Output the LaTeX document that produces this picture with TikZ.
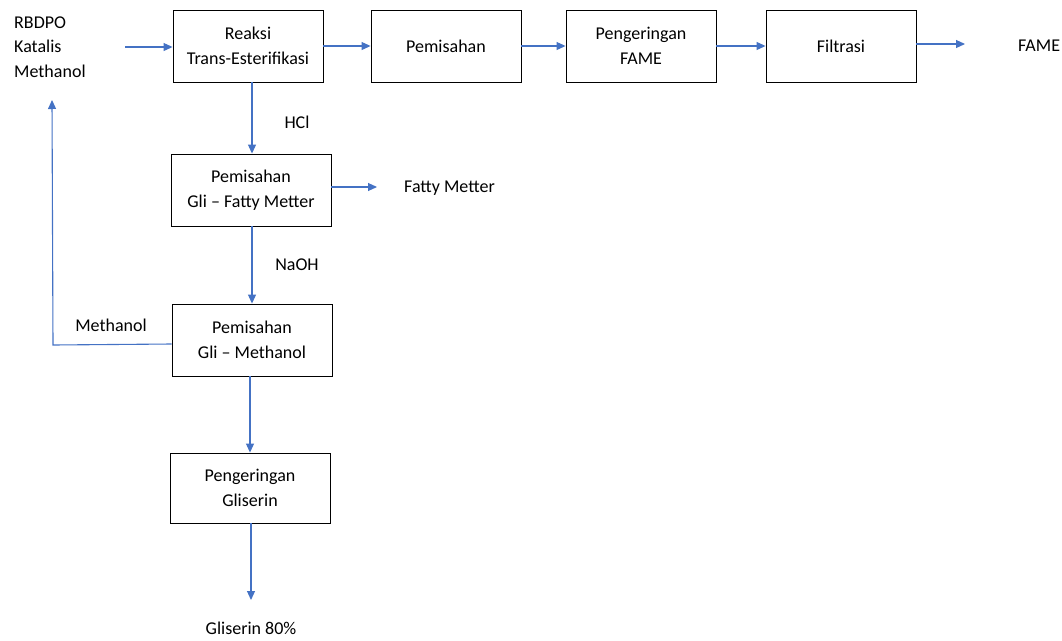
\documentclass[tikz,border=0pt]{standalone}
\usepackage{fontspec}
\setmainfont{Carlito}
\usetikzlibrary{positioning,arrows.meta}
\definecolor{flowblue}{HTML}{4472C4}
\tikzset{
  proc/.style={rectangle, draw, line width=0.9pt, fill=white, minimum width=150pt, minimum height=72pt, align=center},
  wideProc/.style={proc, minimum width=160pt},
  label/.style={align=left, inner sep=0pt},
  flow/.style={draw=flowblue, line width=1.1pt, -{Triangle[length=9pt,width=8pt]}}
}
\begin{document}
\begin{tikzpicture}[x=1pt, y=-1pt, font=\fontsize{18}{24.5}\selectfont]
  \useasboundingbox (0,0) rectangle (1062,640);
  % main line
  \node [proc] (reaksi) at (248,46) {Reaksi\\Trans-Esterifikasi};
  \node [proc] (pisah) at (446,46) {Pemisahan};
  \node [proc] (keringFame) at (641,46) {Pengeringan\\FAME};
  \node [proc] (filtrasi) at (841,46) {Filtrasi};
  \node [label, anchor=west] (fame) at (1018,46) {FAME};
  % gliserin line
  \node [wideProc] (pisahFatty) at (251,190) {Pemisahan\\Gli -- Fatty Metter};
  \node [wideProc] (pisahMeth) at (252,340) {Pemisahan\\Gli -- Methanol};
  \node [wideProc, minimum height=70pt] (keringGli) at (250,488) {Pengeringan\\Gliserin};
  \node [label] (gliserin) at (251,628) {Gliserin 80\%};
  % feed and side streams
  \node [label, anchor=west] (feed) at (14,47) {RBDPO\\Katalis\\Methanol};
  \node [label, anchor=west] (fatty) at (404,188) {Fatty Metter};
  \node [label] (hcl) at (297,122) {HCl};
  \node [label] (naoh) at (297,265) {NaOH};
  \node [label] (recMeth) at (111,325) {Methanol};
  \coordinate (feedEnd) at (125,47);
  \coordinate (fameEnd) at (965,44);
  \coordinate (fattyEnd) at (377,187);
  \coordinate (gliEnd) at (251,600);
  \coordinate (recTop) at (52,100);

  \draw [flow] (feedEnd) -- (reaksi.west |- feedEnd);
  \draw [flow] (reaksi) -- (pisah);
  \draw [flow] (pisah) -- (keringFame);
  \draw [flow] (keringFame) -- (filtrasi);
  \draw [flow] (filtrasi.east |- fameEnd) -- (fameEnd);
  \draw [flow] (reaksi.south -| 252,0) -- (pisahFatty.north -| 252,0);
  \draw [flow] (pisahFatty.east |- fattyEnd) -- (fattyEnd);
  \draw [flow] (pisahFatty.south -| 252,0) -- (pisahMeth.north -| 252,0);
  \draw [flow] (pisahMeth.west |- 0,344) -- (53,345) -- (recTop);
  \draw [flow] (pisahMeth.south -| 250,0) -- (keringGli.north -| 250,0);
  \draw [flow] (keringGli.south -| gliEnd) -- (gliEnd);
\end{tikzpicture}
\end{document}
